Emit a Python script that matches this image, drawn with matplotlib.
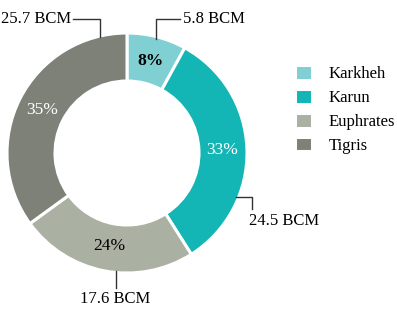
import numpy as np
import matplotlib.pyplot as plt

plt.rcParams['font.family'] = ['Liberation Serif', 'DejaVu Serif']

# data
rivers = ['Karkheh', 'Karun', 'Euphrates', 'Tigris']
shares = [8, 33, 24, 35]
volumes = [5.8, 24.5, 17.6, 25.7]
colors = ['#7fcfd3', '#13b5b5', '#aab0a2', '#7d8178']
pct_colors = ['black', 'white', 'black', 'white']
pct_weight = ['bold', 'normal', 'normal', 'normal']

fig = plt.figure(figsize=(3.97, 3.12), dpi=100)
ax = fig.add_axes([7 / 397, 39 / 312, 240 / 397, 240 / 312])

wedges, _, autotexts = ax.pie(
    shares, colors=colors, startangle=90, counterclock=False,
    radius=1.0, autopct='%d%%', pctdistance=0.79,
    wedgeprops=dict(width=0.4, edgecolor='white', linewidth=2.2),
)
for t, c, w in zip(autotexts, pct_colors, pct_weight):
    t.set_color(c)
    t.set_fontsize(12.5)
    t.set_fontweight(w)
ax.set_xlim(-1, 1)
ax.set_ylim(-1, 1)
ax.set_aspect('equal')
ax.axis('off')


def edge(angle_deg, r=1.0):
    # angle measured clockwise from 12 o'clock
    a = np.deg2rad(angle_deg)
    return r * np.sin(a), r * np.cos(a)


lk = dict(color='#333333', lw=1.0, clip_on=False)
tk = dict(fontsize=12, color='black', clip_on=False)

# Karkheh: up then right
x0, y0 = edge(14.5, 0.98)
ax.plot([x0, x0, x0 + 0.2], [y0, 1.12, 1.12], **lk)
ax.text(x0 + 0.22, 1.12, f'{volumes[0]} BCM', ha='left', va='center', **tk)

# Karun: right then down
x0, y0 = edge(112, 0.98)
ax.plot([x0, x0 + 0.135, x0 + 0.135], [y0, y0, y0 - 0.1], **lk)
ax.text(x0 + 0.11, y0 - 0.2, f'{volumes[1]} BCM', ha='left', va='center', **tk)

# Euphrates: straight down
x0, y0 = edge(185.5, 0.99)
ax.plot([x0, x0], [y0, y0 - 0.14], **lk)
ax.text(x0, y0 - 0.23, f'{volumes[2]} BCM', ha='center', va='center', **tk)

# Tigris: up then left
x0, y0 = edge(-13, 0.99)
ax.plot([x0, x0, x0 - 0.23], [y0, 1.12, 1.12], **lk)
ax.text(x0 - 0.24, 1.12, f'{volumes[3]} BCM', ha='right', va='center', **tk)

fig.legend(wedges, rivers, loc='upper left', bbox_to_anchor=(280 / 397, 1 - 50 / 312),
           frameon=False, fontsize=12, handlelength=1.0, handleheight=1.0,
           labelspacing=0.4, handletextpad=1.0)

fig.savefig('out.png', dpi=100)
